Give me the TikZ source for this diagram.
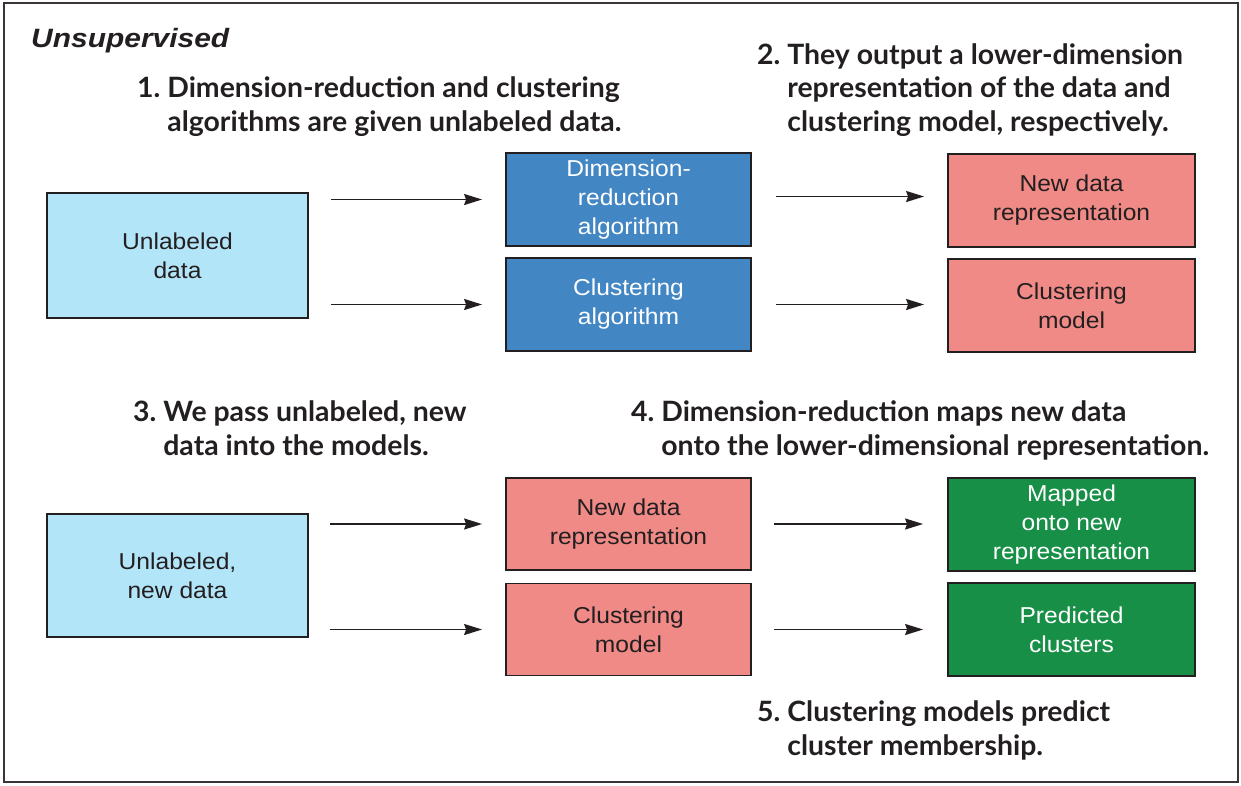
\documentclass[tikz,border=0pt]{standalone}
\usepackage{fontspec}
\setmainfont{Liberation Sans}
\newfontfamily\boxfont[FakeStretch=1.07]{Liberation Sans}
\newfontfamily\titfont[FakeStretch=1.13]{Liberation Sans}
\newfontfamily\hfont[FakeStretch=1.015]{Lato}
\usetikzlibrary{arrows.meta}
\definecolor{ink}{RGB}{35,31,32}
\definecolor{lblue}{RGB}{179,229,249}
\definecolor{dblue}{RGB}{66,134,196}
\definecolor{pinkbox}{RGB}{240,138,135}
\definecolor{greenbox}{RGB}{23,143,71}
\begin{document}
\begin{tikzpicture}[x=1pt,y=-1pt,
  box/.style={draw=ink, line width=1.8pt, inner sep=0pt, align=center,
    text=ink, font=\boxfont\fontsize{23}{29}\selectfont},
  wbox/.style={box, text=white},
  headtxt/.style={font=\hfont\bfseries\fontsize{28}{33.5}\selectfont, align=left,
    anchor=base west, inner sep=0pt, text=ink},
  arr/.style={draw=ink, line width=1.7pt, -{Stealth[length=18pt,width=11pt,inset=2pt]}}
]
\useasboundingbox (0,0) rectangle (1241,785);
\draw[ink!90, line width=2pt] (4,3) rectangle (1238,782);
\node[anchor=base west, inner sep=0pt, text=ink, font=\titfont\bfseries\itshape\fontsize{26.5}{30}\selectfont] (title) at (31,47) {Unsupervised};

% headings (anchor = baseline of the last line)
\node[headtxt] (h1) at (137,131) {1.\ Dimension-reduction and clustering\\\hphantom{1.\ }algorithms are given unlabeled data.};
\node[headtxt] (h2) at (757,131) {2.\ They output a lower-dimension\\\hphantom{2.\ }representation of the data and\\\hphantom{2.\ }clustering model, respectively.};
\node[headtxt] (h3) at (133,455) {3.\ We pass unlabeled, new\\\hphantom{3.\ }data into the models.};
\node[headtxt] (h4) at (631,455) {4.\ Dimension-reduction maps new data\\\hphantom{4.\ }onto the lower-dimensional representation.};
\node[headtxt] (h5) at (757,755) {5.\ Clustering models predict\\\hphantom{5.\ }cluster membership.};

% upper boxes
\node[box, fill=lblue, minimum width=261pt, minimum height=125pt] (ud1) at (177.5,255.5) {Unlabeled\\data};
\node[wbox, fill=dblue, minimum width=245pt, minimum height=93pt] (dra) at (628.5,199.5) {Dimension-\\reduction\\algorithm};
\node[wbox, fill=dblue, minimum width=245pt, minimum height=93pt] (ca) at (628.5,304.5) {Clustering\\algorithm};
\node[box, fill=pinkbox, minimum width=247pt, minimum height=93pt] (ndr1) at (1071.5,200.5) {New data\\representation};
\node[box, fill=pinkbox, minimum width=247pt, minimum height=93pt] (cm1) at (1071.5,305.5) {Clustering\\model};

% lower boxes
\node[box, fill=lblue, minimum width=261pt, minimum height=123pt] (ud2) at (177.5,575.5) {Unlabeled,\\new data};
\node[box, fill=pinkbox, minimum width=245pt, minimum height=92pt] (ndr2) at (628.5,524) {New data\\representation};
\node[box, fill=pinkbox, minimum width=245pt, minimum height=92pt] (cm2) at (628.5,629.5) {Clustering\\model};
\node[wbox, fill=greenbox, minimum width=247pt, minimum height=93pt] (map) at (1071.5,524.5) {Mapped\\onto new\\representation};
\node[wbox, fill=greenbox, minimum width=247pt, minimum height=93pt] (pred) at (1071.5,629.5) {Predicted\\clusters};

% arrows upper
\draw[arr, shorten <=22pt, shorten >=23pt] (ud1.east |- dra.west) -- (dra.west);
\draw[arr, shorten <=22pt, shorten >=23pt] (ud1.east |- ca.west) -- (ca.west);
\draw[arr, shorten <=24pt, shorten >=23pt] ([yshift=3pt]dra.east) -- ([yshift=3pt]dra.east -| ndr1.west);
\draw[arr, shorten <=24pt, shorten >=23pt] (ca.east) -- (ca.east -| cm1.west);

% arrows lower
\draw[arr, shorten <=21pt, shorten >=23pt] (ud2.east |- ndr2.west) -- (ndr2.west);
\draw[arr, shorten <=21pt, shorten >=23pt] (ud2.east |- cm2.west) -- (cm2.west);
\draw[arr, shorten <=22pt, shorten >=24pt] (ndr2.east) -- (ndr2.east -| map.west);
\draw[arr, shorten <=22pt, shorten >=24pt] (cm2.east) -- (cm2.east -| pred.west);
\end{tikzpicture}
\end{document}
